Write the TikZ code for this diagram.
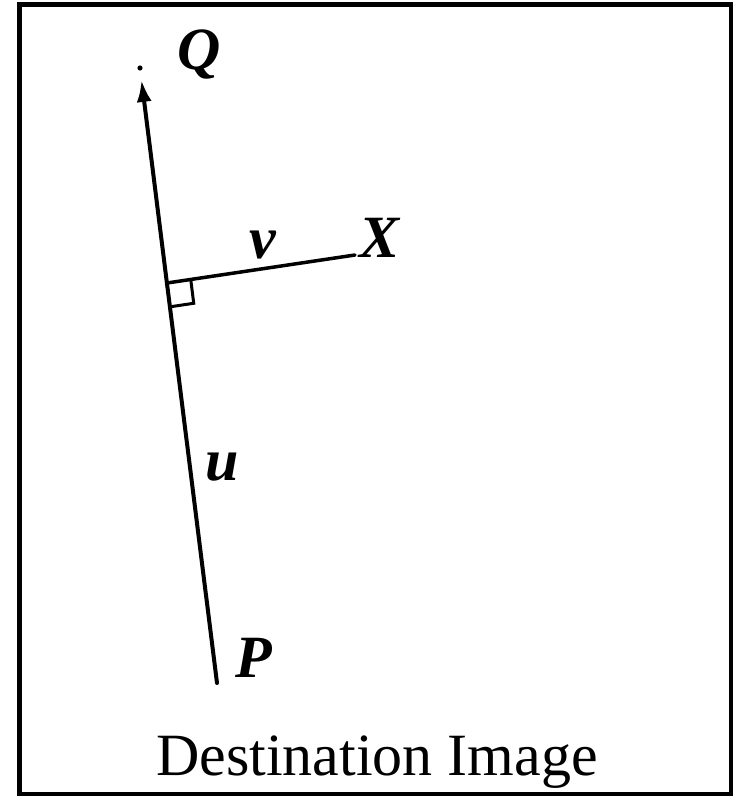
\documentclass[tikz,border=0pt]{standalone}
\usepackage{fontspec}
\setmainfont{Liberation Serif}
\usetikzlibrary{arrows.meta,calc}
\begin{document}
\begin{tikzpicture}[x=0.5pt, y=-0.5pt,
    lbl/.style={anchor=base, inner sep=0pt, font=\fontsize{30}{36}\selectfont\bfseries\itshape},
    vec/.style={line width=2pt, line cap=round}]
    \useasboundingbox (0,0) rectangle (736,797);
    \draw[line width=2.25pt] (19.5,4.5) rectangle (731,794);
    \coordinate (P)  at (217,683);
    \coordinate (Q)  at (140,68);
    \coordinate (F)  at (167,283);
    \coordinate (Xe) at (355,255);
    \coordinate (Qt) at ($(Q)!6pt!(P)$);
    \fill (Q) circle (1.3pt);
    \draw[vec, -{Latex[length=11pt,width=7.5pt]}] (P) -- (Qt);
    \draw[line width=1.75pt, line cap=round] (F) -- (Xe);
    % right angle mark
    \coordinate (sa) at ($(F)!12pt!(Xe)$);
    \coordinate (sb) at ($(F)!12pt!(P)$);
    \draw[line width=1.5pt] (sa) -- ($(sa)+(sb)-(F)$) -- (sb);
    \node[lbl] (lQ) at (199,70)  {Q};
    \node[lbl] (lX) at (380,257) {X};
    \node[lbl] (lv) at (263,258) {v};
    \node[lbl] (lu) at (222,480) {u};
    \node[lbl] (lP) at (254,677) {P};
    \node[anchor=base, inner sep=0pt, font=\fontsize{30}{36}\selectfont] (cap) at (377,775) {Destination Image};
  \end{tikzpicture}
\end{document}
